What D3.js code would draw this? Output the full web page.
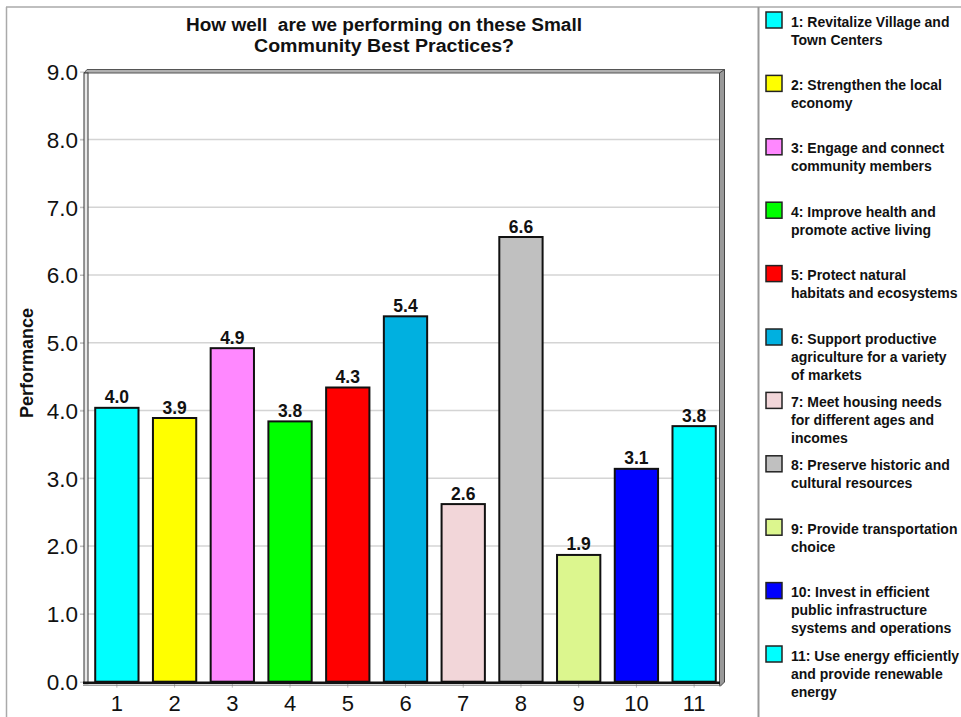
<!DOCTYPE html>
<html>
<head>
<meta charset="utf-8">
<script src="https://cdn.jsdelivr.net/npm/d3@7/dist/d3.min.js"></script>
<style>
  html, body { margin: 0; padding: 0; background: #fff; }
  svg { display: block; font-family: "Liberation Sans", Arial, sans-serif; }
</style>
</head>
<body>
<svg id="chart" width="961" height="717"></svg>
<script>
// ---- Data ----
const categories = ["1", "2", "3", "4", "5", "6", "7", "8", "9", "10", "11"];
const values = [4.04, 3.89, 4.92, 3.84, 4.34, 5.39, 2.62, 6.56, 1.87, 3.14, 3.77];
const colors = ["#00FFFF", "#FFFF00", "#FF88FF", "#00FF00", "#FF0000", "#00B0E0",
                "#F2D6D9", "#C0C0C0", "#DCF68E", "#0000FF", "#00FFFF"];
const yTicks = [0, 1, 2, 3, 4, 5, 6, 7, 8, 9];
const legendLabels = [
  ["1: Revitalize Village and", "Town Centers"],
  ["2: Strengthen the local", "economy"],
  ["3: Engage and connect", "community members"],
  ["4: Improve health and", "promote active living"],
  ["5: Protect natural", "habitats and ecosystems"],
  ["6: Support productive", "agriculture for a variety", "of markets"],
  ["7: Meet housing needs", "for different ages and", "incomes"],
  ["8: Preserve historic and", "cultural resources"],
  ["9: Provide transportation", "choice"],
  ["10: Invest in efficient", "public infrastructure", "systems and operations"],
  ["11: Use energy efficiently", "and provide renewable", "energy"]
];
const titleLines = ["How well  are we performing on these Small", "Community Best Practices?"];
const yTitle = "Performance";

// ---- Layout ----
const svg = d3.select("#chart");
const plot = { left: 88, right: 723, top: 71.6, bottom: 681.7 };

const x = d3.scaleBand().domain(categories).range([plot.left, plot.right])
  .paddingInner(0.25).paddingOuter(0.125);
const y = d3.scaleLinear().domain([0, 9]).range([plot.bottom, plot.top]);

// outer border and legend separator
svg.append("line").attr("x1", 6).attr("x2", 961).attr("y1", 7).attr("y2", 7)
  .attr("stroke", "#aaa").attr("stroke-width", 1.5);
svg.append("line").attr("x1", 6.5).attr("x2", 6.5).attr("y1", 7).attr("y2", 717)
  .attr("stroke", "#aaa").attr("stroke-width", 1.5);
svg.append("line").attr("x1", 758.5).attr("x2", 758.5).attr("y1", 7).attr("y2", 717)
  .attr("stroke", "#999").attr("stroke-width", 2);

// title
const titleWidths = [396, 260];
svg.append("g").selectAll("text").data(titleLines).join("text")
  .attr("x", 384).attr("y", (d, i) => 31 + i * 21)
  .attr("text-anchor", "middle")
  .attr("font-size", 18).attr("font-weight", "bold").attr("fill", "#111")
  .attr("textLength", (d, i) => titleWidths[i]).attr("lengthAdjust", "spacingAndGlyphs")
  .attr("xml:space", "preserve")
  .style("white-space", "pre")
  .text(d => d);

// grid lines
svg.append("g").selectAll("line").data(yTicks.filter(t => t > 0 && t < 9)).join("line")
  .attr("x1", 80).attr("x2", plot.right - 3)
  .attr("y1", d => y(d)).attr("y2", d => y(d))
  .attr("stroke", "#d4d4d4").attr("stroke-width", 1.5);

// y axis labels via d3 axis
const yAxis = d3.axisLeft(y).tickValues(yTicks).tickFormat(d3.format(".1f")).tickSize(4).tickPadding(2);
const yg = svg.append("g").attr("transform", `translate(84,0)`).call(yAxis);
yg.select(".domain").remove();
yg.selectAll("line").attr("stroke", "#bbb");
yg.selectAll("text").attr("font-size", 22.5).attr("fill", "#111")
  .attr("font-family", "'Liberation Sans', Arial, sans-serif").attr("dy", "0.35em");

// x axis via d3 axis
const xAxis = d3.axisBottom(x).tickSize(4).tickPadding(8);
const xg = svg.append("g").attr("transform", `translate(0,${plot.bottom + 2})`).call(xAxis);
xg.select(".domain").remove();
xg.selectAll("line").attr("stroke", "#bbb");
xg.selectAll("text").attr("font-size", 22).attr("fill", "#111")
  .attr("font-family", "'Liberation Sans', Arial, sans-serif").attr("dy", "0.71em");

// frame (3D-ish box)
const frame = svg.append("g");
frame.append("path")
  .attr("d", `M84,73 L87,69.5 L724.5,69.5 L724.5,73 Z`)
  .attr("fill", "#b0b0b0").attr("stroke", "#555").attr("stroke-width", 1);
frame.append("path")
  .attr("d", `M719.5,73 L724.5,69.5 L724.5,682 L720.5,686 L719.5,686 Z`)
  .attr("fill", "#999").attr("stroke", "#444").attr("stroke-width", 1);
frame.append("rect").attr("x", 84).attr("y", 73).attr("width", 4).attr("height", plot.bottom - 73 + 2)
  .attr("fill", "#e8e8e8").attr("stroke", "#333").attr("stroke-width", 1);

// bars
svg.append("g").selectAll("rect").data(values).join("rect")
  .attr("x", (d, i) => x(categories[i]))
  .attr("width", x.bandwidth())
  .attr("y", d => y(d))
  .attr("height", d => y(0) - y(d))
  .attr("fill", (d, i) => colors[i])
  .attr("stroke", "#111").attr("stroke-width", 2);

// bottom axis line
svg.append("line").attr("x1", 83).attr("x2", 720).attr("y1", plot.bottom + 1).attr("y2", plot.bottom + 1)
  .attr("stroke", "#111").attr("stroke-width", 2.5);
svg.append("line").attr("x1", 83).attr("x2", 721).attr("y1", plot.bottom + 3.5).attr("y2", plot.bottom + 3.5)
  .attr("stroke", "#777").attr("stroke-width", 1);

// value labels
svg.append("g").selectAll("text").data(values).join("text")
  .attr("x", (d, i) => x(categories[i]) + x.bandwidth() / 2)
  .attr("y", d => y(d) - 4.5)
  .attr("text-anchor", "middle")
  .attr("font-size", 17.5).attr("font-weight", "bold").attr("fill", "#111")
  .text(d => d3.format(".1f")(d));

// y title
svg.append("text")
  .attr("transform", "translate(33,363) rotate(-90)")
  .attr("text-anchor", "middle")
  .attr("font-size", 18).attr("font-weight", "bold").attr("fill", "#111")
  .text(yTitle);

// legend
const legendTop = 12, legendStep = 63.4;
const lg = svg.append("g").selectAll("g").data(legendLabels).join("g")
  .attr("transform", (d, i) => `translate(766,${legendTop + i * legendStep})`);
lg.append("rect").attr("x", 0).attr("y", 0).attr("width", 16).attr("height", 16)
  .attr("fill", (d, i) => colors[i]).attr("stroke", "#222").attr("stroke-width", 1.5);
lg.each(function(lines) {
  d3.select(this).selectAll("text").data(lines).join("text")
    .attr("x", 25).attr("y", (d, j) => 14.5 + j * 18)
    .attr("font-size", 14).attr("font-weight", "bold").attr("fill", "#111")
    .text(d => d);
});
</script>
</body>
</html>
